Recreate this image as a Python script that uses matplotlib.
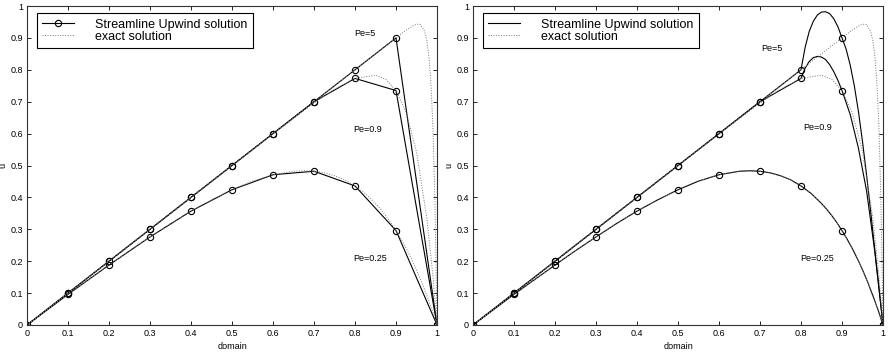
import numpy as np
import matplotlib
matplotlib.use("Agg")
import matplotlib.pyplot as plt

# Font setup (Helvetica look-alike)
plt.rcParams['font.family'] = ['Liberation Sans', 'DejaVu Sans']

# Node positions of the mesh
nodes = [0.0, 0.1, 0.2, 0.3, 0.4, 0.5, 0.6, 0.7, 0.8, 0.9, 1.0]

# Streamline upwind nodal values
su_pe5 = [0.0, 0.1, 0.2, 0.3, 0.4, 0.5, 0.6, 0.7, 0.8, 0.9, 0.0]
su_pe09 = [0.0, 0.1, 0.2, 0.3, 0.4, 0.5, 0.6, 0.7, 0.773, 0.735, 0.0]
su_pe025 = [0.0, 0.096, 0.188, 0.276, 0.357, 0.424, 0.471, 0.482, 0.436, 0.296, 0.0]

# Exact solutions
ex_pe5_x = [0.0, 0.9, 0.92, 0.94, 0.95, 0.96, 0.97, 0.975, 0.98, 0.985, 0.99, 0.995, 1.0]
ex_pe5_u = [0.0, 0.9, 0.92, 0.937, 0.943, 0.942, 0.92, 0.893, 0.845, 0.762, 0.622, 0.389, 0.0]
ex_pe09_x = [0.0, 0.5, 0.6, 0.7, 0.75, 0.8, 0.85, 0.875, 0.9, 0.925, 0.95, 0.975, 0.99, 1.0]
ex_pe09_u = [0.0, 0.5, 0.599, 0.696, 0.739, 0.773, 0.783, 0.770, 0.735, 0.666, 0.543, 0.337, 0.155, 0.0]
ex_pe025_x = [0.0, 0.05, 0.1, 0.15, 0.2, 0.25, 0.3, 0.35, 0.4, 0.45, 0.5, 0.55, 0.6, 0.65, 0.675,
              0.7, 0.725, 0.75, 0.775, 0.8, 0.825, 0.85, 0.8625, 0.875, 0.8875, 0.9, 0.9125,
              0.925, 0.9375, 0.95, 0.9625, 0.975, 0.9875, 1.0]
ex_pe025_u = [0.0, 0.048, 0.096, 0.142, 0.188, 0.233, 0.276, 0.318, 0.357, 0.392, 0.424, 0.451,
              0.471, 0.482, 0.4835, 0.482, 0.477, 0.468, 0.455, 0.436, 0.412, 0.381, 0.363, 0.343,
              0.321, 0.296, 0.269, 0.240, 0.208, 0.173, 0.135, 0.093, 0.049, 0.0]

# Right panel: interpolated streamline upwind curves
cv_pe5_x = [0.0, 0.8, 0.81, 0.82, 0.83, 0.84, 0.85, 0.86, 0.87, 0.88, 0.89, 0.9,
            0.91, 0.92, 0.93, 0.94, 0.95, 0.96, 0.97, 0.98, 0.99, 1.0]
cv_pe5_u = [0.0, 0.8, 0.87, 0.92, 0.952, 0.972, 0.981, 0.982, 0.976, 0.96, 0.935, 0.9,
            0.865, 0.815, 0.75, 0.67, 0.575, 0.47, 0.355, 0.235, 0.12, 0.0]
cv_pe09_x = [0.0, 0.7, 0.8, 0.81, 0.82, 0.83, 0.84, 0.85, 0.86, 0.87, 0.88, 0.89, 0.9,
             0.92, 0.94, 0.96, 0.98, 1.0]
cv_pe09_u = [0.0, 0.7, 0.773, 0.805, 0.826, 0.838, 0.842, 0.84, 0.832, 0.816, 0.794, 0.767, 0.735,
             0.66, 0.555, 0.42, 0.23, 0.0]

# Labels
pe_labels = ["Pe=5", "Pe=0.9", "Pe=0.25"]
pe_pos_left = [(0.824, 0.915), (0.83, 0.614), (0.837, 0.207)]
pe_pos_right = [(0.73, 0.868), (0.84, 0.62), (0.84, 0.207)]
ticks = [0.0, 0.1, 0.2, 0.3, 0.4, 0.5, 0.6, 0.7, 0.8, 0.9, 1.0]
tick_labels = ["0", "0.1", "0.2", "0.3", "0.4", "0.5", "0.6", "0.7", "0.8", "0.9", "1"]

fig = plt.figure(figsize=(8.89, 3.55), dpi=100)
axL = fig.add_axes([27 / 889, 30 / 355, 410 / 889, 319 / 355])
axR = fig.add_axes([473 / 889, 30 / 355, 410 / 889, 319 / 355])

line_kw = dict(color='black', linewidth=0.8)
dot_kw = dict(color='#777777', linestyle=(0, (1, 1.6)), linewidth=0.7)
mk_kw = dict(marker='o', markersize=4.5, markerfacecolor='none', markeredgecolor='black', markeredgewidth=0.8)

# Left panel: piecewise linear nodal solutions
axL.plot(nodes, su_pe5, label='Streamline Upwind solution', **line_kw, **mk_kw)
axL.plot(nodes, su_pe09, **line_kw, **mk_kw)
axL.plot(nodes, su_pe025, **line_kw, **mk_kw)
axL.plot(ex_pe5_x, ex_pe5_u, label='exact solution', **dot_kw)
axL.plot(ex_pe09_x, ex_pe09_u, **dot_kw)
axL.plot(ex_pe025_x, ex_pe025_u, **dot_kw)

# Right panel: interpolated solutions with nodal markers
axR.plot(cv_pe5_x, cv_pe5_u, label='Streamline Upwind solution', **line_kw)
axR.plot(cv_pe09_x, cv_pe09_u, **line_kw)
axR.plot(ex_pe025_x, ex_pe025_u, **line_kw)
axR.plot(ex_pe5_x, ex_pe5_u, label='exact solution', **dot_kw)
axR.plot(ex_pe09_x, ex_pe09_u, **dot_kw)
axR.plot(ex_pe025_x, ex_pe025_u, **dot_kw)
for vals in [su_pe5, su_pe09, su_pe025]:
    axR.plot(nodes, vals, linestyle='none', **mk_kw)

for ax, pos in [(axL, pe_pos_left), (axR, pe_pos_right)]:
    for lab, (px, py) in zip(pe_labels, pos):
        ax.text(px, py, lab, fontsize=6.5, ha='center', va='center')
    ax.set_xlim(0, 1)
    ax.set_ylim(0, 1)
    ax.set_xticks(ticks)
    ax.set_xticklabels(tick_labels)
    ax.set_yticks(ticks)
    ax.set_yticklabels(tick_labels)
    ax.tick_params(direction='in', top=True, right=True, labelsize=6.5, length=3, width=0.6, pad=3)
    for sp in ax.spines.values():
        sp.set_linewidth(0.8)
        sp.set_color('#333333')
    ax.set_xlabel('domain', fontsize=6.5, labelpad=3)
    ax.set_ylabel('u', fontsize=6.5, labelpad=2)
    leg = ax.legend(loc='upper left', bbox_to_anchor=(0.024, 0.978), fontsize=9, frameon=True,
                    fancybox=False, edgecolor='black', framealpha=1, handlelength=2.5,
                    handletextpad=1.7, borderpad=0.45, labelspacing=0.0, borderaxespad=0)
    leg.get_frame().set_linewidth(0.8)

fig.savefig('out.png', dpi=100)
